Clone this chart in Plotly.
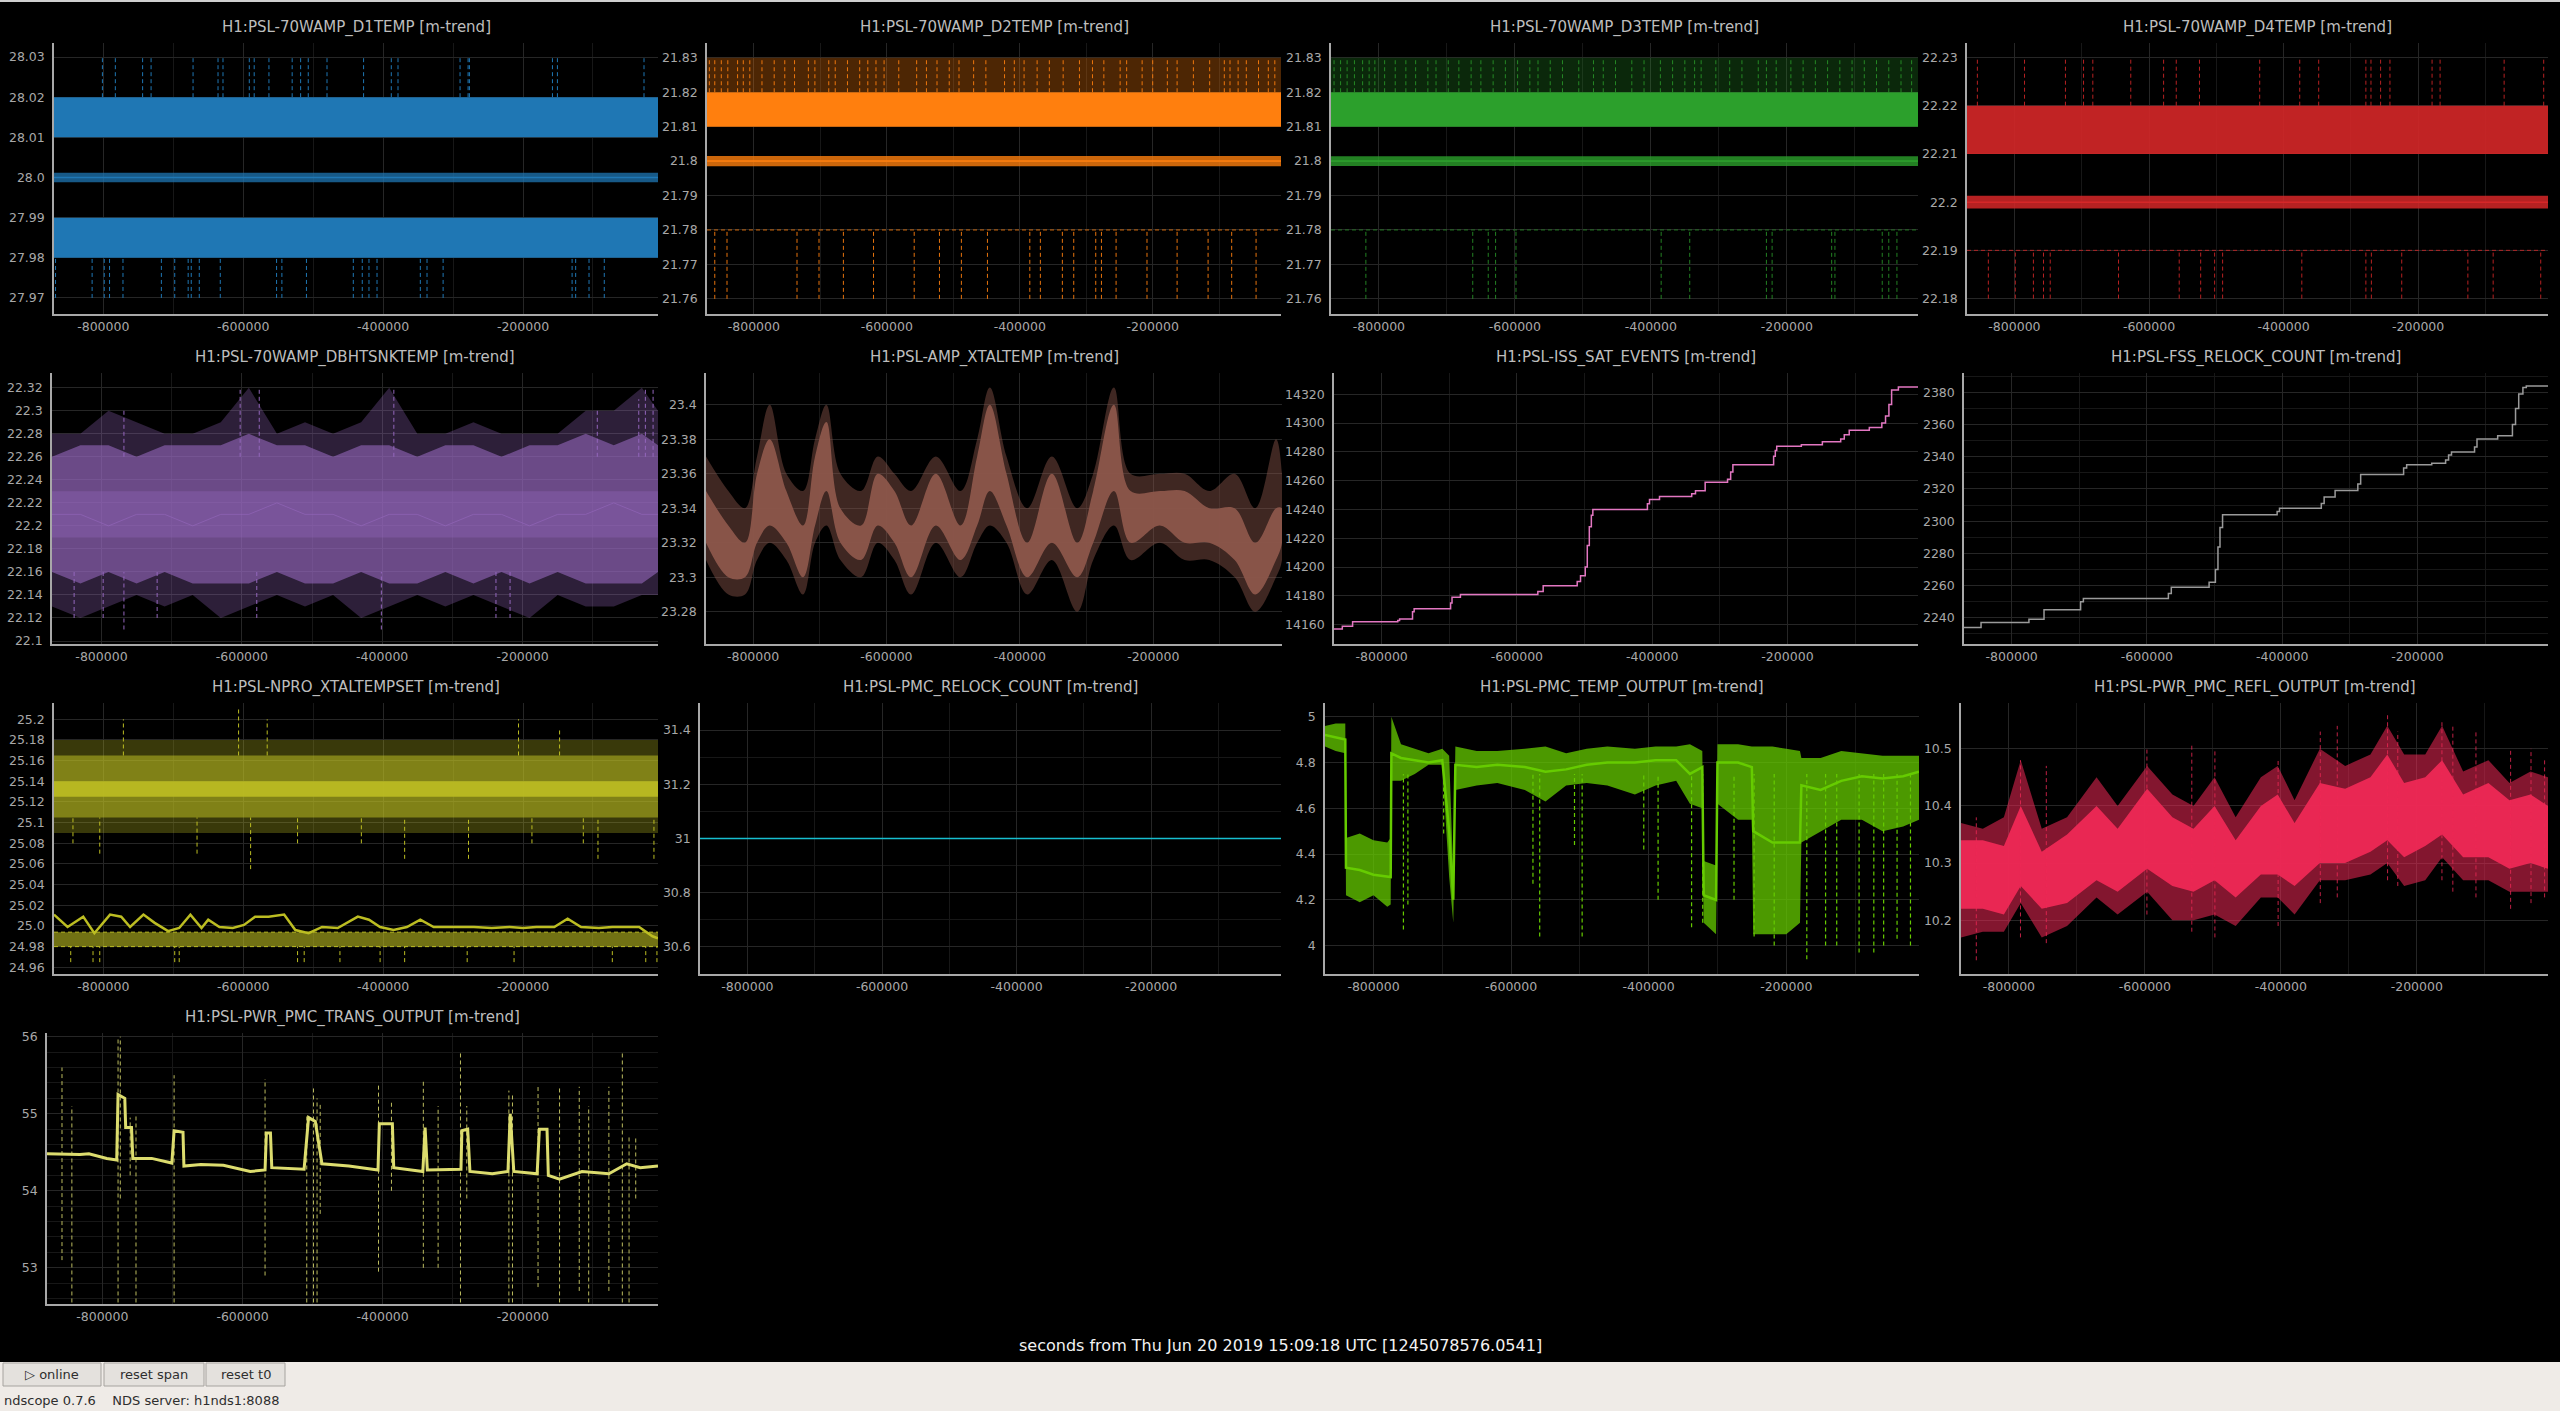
import plotly.graph_objects as go

W, H = 2560, 1411

# ---- shared time axis (seconds from t0) ----
T_START = -870500
T_END = -7000
T_START_LONG = -879000
EDGES = [T_START, T_END]
X_TICKS = [-800000, -600000, -400000, -200000]
X_MINOR = [-900000, -700000, -500000, -300000, -100000]

# ---- H1:PSL-70WAMP_D1TEMP ----
d1_ticks = ['28.03', '28.02', '28.01', '28.0', '27.99', '27.98', '27.97']
d1_max_band = [28.01, 28.02]
d1_mean_band = [27.9988, 28.0012]
d1_mean = 28.0
d1_min_band = [27.98, 27.99]
d1_spike_top = 28.03
d1_spike_bot = 27.97
d1_up_spikes = [-801300, -782800, -743800, -731700, -671700, -636000, -628900, -591300, -584300, -563200,
                -530000, -517900, -507000, -480200, -427900, -388300, -378700, -290000, -278500, -276600,
                -157900, -150800, -27000]
d1_dn_spikes = [-868300, -816000, -798700, -791100, -771900, -717000, -697900, -678700, -674300, -662800,
                -632800, -552300, -544700, -509600, -442600, -429800, -420200, -408700, -346800, -337200,
                -314200, -129800, -124700, -105600, -83800]

# ---- H1:PSL-70WAMP_D2TEMP ----
d2_ticks = ['21.83', '21.82', '21.81', '21.8', '21.79', '21.78', '21.77', '21.76']
d2_max_band = [21.81, 21.82]
d2_mean_band = [21.7985, 21.8015]
d2_mean = 21.80
d2_min_level = 21.78
d2_spike_top = 21.83
d2_spike_bot = 21.76
d2_up_spikes = [-867000, -858800, -849000, -839200, -824500, -815900, -806100, -787800, -769400, -753500,
                -738800, -718000, -708200, -687300, -677600, -659200, -640800, -628600, -616300, -604100,
                -582000, -555100, -540400, -524500, -506100, -491400, -469400, -451000, -422900, -408200,
                -393500, -373900, -355500, -334700, -310200, -290600, -273500, -249000, -239200, -215900,
                -200000, -178000, -163300, -138800, -114300, -92300, -83700, -71500, -59200, -40800,
                -26100, -16300]
d2_dn_spikes = [-858800, -840400, -735100, -702000, -665300, -620000, -558800, -520800, -487800, -448600,
                -384900, -369000, -335900, -318800, -285700, -277100, -255100, -208600, -163300, -116700,
                -81200, -44500]

# ---- H1:PSL-70WAMP_D3TEMP ----
d3_ticks = ['21.83', '21.82', '21.81', '21.8', '21.79', '21.78', '21.77', '21.76']
d3_max_band = [21.81, 21.82]
d3_mean_band = [21.7986, 21.8014]
d3_mean = 21.80
d3_min_level = 21.78
d3_spike_top = 21.83
d3_spike_bot = 21.76
d3_up_spikes = [-866000, -856400, -846800, -836000, -824000, -814400, -806000, -791600, -776000, -760400,
                -746000, -728000, -716000, -698000, -682400, -664400, -650000, -632000, -614000, -596000,
                -578000, -566000, -548000, -530000, -506000, -484400, -470000, -452000, -428000, -410000,
                -386000, -368000, -350000, -335600, -326000, -304400, -284000, -266000, -242000, -230000,
                -215600, -194000, -176000, -158000, -140000, -122000, -104000, -86000, -68000, -50000,
                -32000, -16400]
d3_dn_spikes = [-819200, -662000, -639200, -628400, -598400, -384800, -342800, -230000, -221600, -134000,
                -129200, -59600, -50000, -38000]

# ---- H1:PSL-70WAMP_D4TEMP ----
d4_ticks = ['22.23', '22.22', '22.21', '22.2', '22.19', '22.18']
d4_max_band = [22.21, 22.22]
d4_mean_band = [22.1987, 22.2013]
d4_mean = 22.20
d4_min_level = 22.19
d4_spike_top = 22.23
d4_spike_bot = 22.18
d4_up_spikes = [-855100, -785000, -724200, -697300, -683500, -627100, -578300, -559500, -525000, -435500,
                -376000, -347800, -277700, -270100, -255800, -241900, -179300, -167400, -72200, -13400]
d4_dn_spikes = [-838800, -798700, -771800, -756800, -746800, -645300, -555100, -523200, -502500, -490600,
                -372900, -277700, -269500, -224400, -126100, -88500, -17800]

# ---- H1:PSL-70WAMP_DBHTSNKTEMP ----
dbh_ticks = ['22.32', '22.3', '22.28', '22.26', '22.24', '22.22', '22.2', '22.18', '22.16', '22.14', '22.12', '22.1']
dbh_t = [-870500, -830000, -790000, -750000, -710000, -670000, -630000, -590000, -550000, -510000, -470000,
         -430000, -390000, -350000, -310000, -270000, -230000, -190000, -150000, -110000, -70000, -30000, -7000]
dbh_hi_out = [22.28, 22.28, 22.30, 22.29, 22.28, 22.28, 22.29, 22.32, 22.28, 22.29, 22.28, 22.29, 22.32, 22.28,
              22.28, 22.29, 22.28, 22.28, 22.28, 22.30, 22.30, 22.32, 22.30]
dbh_hi_in = [22.26, 22.27, 22.27, 22.26, 22.27, 22.27, 22.27, 22.28, 22.27, 22.27, 22.26, 22.27, 22.27, 22.26,
             22.27, 22.27, 22.26, 22.27, 22.27, 22.28, 22.27, 22.28, 22.27]
dbh_lo_in = [22.16, 22.15, 22.16, 22.15, 22.16, 22.15, 22.15, 22.15, 22.16, 22.15, 22.15, 22.16, 22.15, 22.15,
             22.16, 22.15, 22.16, 22.15, 22.16, 22.15, 22.15, 22.15, 22.16]
dbh_lo_out = [22.13, 22.12, 22.13, 22.14, 22.13, 22.14, 22.12, 22.13, 22.14, 22.13, 22.14, 22.12, 22.13, 22.14,
              22.13, 22.14, 22.13, 22.12, 22.14, 22.13, 22.13, 22.14, 22.14]
dbh_mean = [22.21, 22.21, 22.20, 22.21, 22.21, 22.20, 22.21, 22.21, 22.22, 22.21, 22.21, 22.20, 22.21, 22.21,
            22.20, 22.21, 22.21, 22.20, 22.21, 22.21, 22.22, 22.21, 22.21]
dbh_core = [22.19, 22.23]
dbh_peak_t = [-768000, -602400, -575200, -383400, -93500, -34400, -25000, -14000]
dbh_peak_v = [22.30, 22.32, 22.32, 22.32, 22.30, 22.31, 22.32, 22.32]
dbh_dip_t = [-839000, -797600, -768000, -720700, -578700, -401200, -237900, -217800]
dbh_dip_v = [22.12, 22.12, 22.11, 22.12, 22.12, 22.11, 22.12, 22.12]

# ---- H1:PSL-AMP_XTALTEMP ----
xtal_ticks = ['23.4', '23.38', '23.36', '23.34', '23.32', '23.3', '23.28']
xtal_t = [-870500, -837000, -812000, -794000, -775000, -750000, -725000, -707000, -690000, -669000,
          -638000, -613000, -588000, -563000, -526000, -489000, -464000, -445000, -420000, -389000,
          -352000, -314000, -290000, -259000, -234000, -190000, -153000, -116000, -78000, -47000,
          -16000, -7000]
xtal_core_lo = [23.32, 23.30, 23.30, 23.32, 23.33, 23.32, 23.30, 23.33, 23.35, 23.32,
                23.31, 23.33, 23.32, 23.30, 23.33, 23.31, 23.33, 23.35, 23.33, 23.30,
                23.32, 23.30, 23.32, 23.35, 23.32, 23.33, 23.32, 23.32, 23.31, 23.29,
                23.31, 23.32]
xtal_core_hi = [23.35, 23.33, 23.32, 23.36, 23.38, 23.35, 23.33, 23.37, 23.39, 23.34,
                23.33, 23.36, 23.35, 23.33, 23.36, 23.33, 23.37, 23.40, 23.36, 23.32,
                23.36, 23.32, 23.35, 23.40, 23.35, 23.35, 23.35, 23.34, 23.34, 23.32,
                23.34, 23.34]
xtal_out_lo = [23.31, 23.29, 23.29, 23.31, 23.32, 23.31, 23.29, 23.32, 23.33, 23.31,
               23.30, 23.32, 23.31, 23.29, 23.32, 23.30, 23.32, 23.33, 23.32, 23.29,
               23.31, 23.28, 23.31, 23.33, 23.31, 23.32, 23.31, 23.31, 23.30, 23.28,
               23.30, 23.31]
xtal_out_hi = [23.37, 23.35, 23.34, 23.37, 23.40, 23.36, 23.35, 23.38, 23.40, 23.36,
               23.35, 23.37, 23.36, 23.35, 23.37, 23.35, 23.38, 23.41, 23.37, 23.34,
               23.37, 23.34, 23.36, 23.41, 23.36, 23.36, 23.36, 23.35, 23.36, 23.34,
               23.38, 23.36]

# ---- H1:PSL-ISS_SAT_EVENTS ----
iss_ticks = ['14320', '14300', '14280', '14260', '14240', '14220', '14200', '14180', '14160']
iss_t = [-870500, -858200, -843000, -776200, -773500, -754400, -752000, -698100, -696000, -683600,
         -569100, -561200, -510900, -506000, -499000, -496000, -493000, -490000, -487800, -407100,
         -404000, -389200, -341600, -336000, -321700, -288600, -284000, -280700, -220500, -218000,
         -215900, -179500, -148400, -121300, -116000, -108700, -79000, -60500, -55000, -50000,
         -46000, -36000, -7000]
iss_v = [14157, 14159, 14162, 14163, 14164, 14169, 14171, 14175, 14179, 14181,
         14183, 14187, 14190, 14194, 14200, 14215, 14228, 14236, 14240, 14244,
         14247, 14249, 14251, 14253, 14259, 14261, 14266, 14271, 14277, 14281,
         14284, 14285, 14287, 14289, 14292, 14295, 14297, 14300, 14305, 14313,
         14323, 14325, 14325]

# ---- H1:PSL-FSS_RELOCK_COUNT ----
fss_ticks = ['2380', '2360', '2340', '2320', '2300', '2280', '2260', '2240']
fss_t = [-870500, -845300, -774500, -752200, -698100, -694000, -568300, -564000, -508100, -498800,
         -495000, -492000, -488200, -407500, -404000, -342200, -338000, -321800, -288200, -284000,
         -220500, -216000, -178900, -158400, -154000, -149700, -115600, -112000, -81400, -59600,
         -55000, -50300, -44100, -39100, -7000]
fss_v = [2234, 2237, 2239, 2245, 2250, 2252, 2255, 2259, 2262, 2270,
         2284, 2296, 2304, 2306, 2308, 2311, 2315, 2319, 2323, 2329,
         2333, 2335, 2336, 2338, 2341, 2343, 2346, 2351, 2353, 2360,
         2370, 2379, 2383, 2384, 2384]

# ---- H1:PSL-NPRO_XTALTEMPSET ----
npro_ticks = ['25.2', '25.18', '25.16', '25.14', '25.12', '25.1', '25.08', '25.06', '25.04', '25.02',
              '25.0', '24.98', '24.96']
npro_max_outer = [25.09, 25.18]
npro_max_mid = [25.105, 25.165]
npro_max_core = [25.125, 25.14]
npro_min_band = [24.98, 24.994]
npro_t = [-870500, -851100, -828700, -812800, -790400, -774400, -761700, -742600, -726600, -707400,
          -691500, -675500, -659600, -650000, -634000, -614900, -598900, -583000, -563800, -541500,
          -525500, -506400, -487200, -464900, -436100, -420200, -404300, -385100, -366000, -346800,
          -327700, -308500, -289400, -270200, -244700, -219100, -200000, -180900, -155300, -136200,
          -117000, -91500, -72300, -53200, -34000, -14900, -7000]
npro_mean = [25.011, 24.999, 25.009, 24.993, 25.011, 25.009, 24.999, 25.011, 25.003, 24.995,
             24.998, 25.011, 24.998, 25.006, 24.999, 24.998, 25.001, 25.009, 25.009, 25.011,
             24.996, 24.993, 24.999, 24.998, 25.009, 25.006, 24.999, 24.996, 24.999, 25.006,
             24.999, 24.999, 24.999, 24.999, 24.998, 24.999, 24.998, 24.999, 24.999, 25.007,
             24.999, 24.998, 24.999, 24.999, 24.999, 24.990, 24.988]
npro_dn_t = [-843400, -805100, -666000, -589400, -522300, -431100, -369200, -277900, -187200, -113800,
             -92800, -12800]
npro_dn_v = [25.08, 25.07, 25.07, 25.055, 25.08, 25.08, 25.065, 25.065, 25.08, 25.08, 25.065, 25.065]
npro_up_t = [-771300, -606600, -565700, -206400, -147700]
npro_up_v = [25.2, 25.21, 25.2, 25.2, 25.19]
npro_low_t = [-846600, -814700, -805100, -697900, -691500, -522300, -512800, -461700, -404300, -369200,
              -279800, -212800, -72300, -24500, -8500]
npro_low_v = 24.965

# ---- H1:PSL-PMC_RELOCK_COUNT ----
pmcr_ticks = ['31.4', '31.2', '31', '30.8', '30.6']
pmcr_v = [31.0, 31.0]

# ---- H1:PSL-PMC_TEMP_OUTPUT ----
pmct_ticks = ['5', '4.8', '4.6', '4.4', '4.2', '4']
pmct_t = [-870500, -855000, -841000, -840000, -820000, -800000, -780000, -775000, -774000, -760000,
          -740000, -720000, -700000, -690000, -684000, -681000, -650000, -620000, -580000, -550000,
          -520000, -490000, -460000, -420000, -390000, -360000, -340000, -322000, -320000, -302000,
          -300000, -270000, -250000, -248000, -220000, -200000, -180000, -178000, -150000, -120000,
          -90000, -60000, -30000, -7000]
pmct_lo = [4.87, 4.85, 4.84, 4.22, 4.19, 4.22, 4.17, 4.18, 4.72, 4.72,
           4.75, 4.79, 4.79, 4.30, 4.10, 4.68, 4.70, 4.71, 4.68, 4.63,
           4.70, 4.71, 4.70, 4.66, 4.70, 4.72, 4.62, 4.60, 4.10, 4.05,
           4.62, 4.55, 4.55, 4.05, 4.05, 4.05, 4.10, 4.45, 4.50, 4.55,
           4.55, 4.50, 4.52, 4.55]
pmct_mean = [4.92, 4.91, 4.90, 4.34, 4.33, 4.31, 4.30, 4.30, 4.84, 4.82,
             4.81, 4.80, 4.81, 4.50, 4.20, 4.79, 4.78, 4.79, 4.78, 4.76,
             4.77, 4.79, 4.80, 4.80, 4.81, 4.81, 4.75, 4.78, 4.22, 4.20,
             4.80, 4.80, 4.78, 4.50, 4.45, 4.45, 4.45, 4.70, 4.68, 4.72,
             4.74, 4.73, 4.74, 4.76]
pmct_hi = [4.96, 4.97, 4.97, 4.47, 4.49, 4.46, 4.45, 4.47, 5.00, 4.88,
           4.86, 4.84, 4.86, 4.83, 4.30, 4.87, 4.85, 4.85, 4.86, 4.87,
           4.84, 4.86, 4.87, 4.86, 4.87, 4.87, 4.88, 4.85, 4.37, 4.35,
           4.88, 4.88, 4.87, 4.87, 4.87, 4.86, 4.85, 4.82, 4.82, 4.85,
           4.84, 4.83, 4.83, 4.83]
pmct_drop_t = [-756500, -750000, -698000, -568200, -558400, -507800, -496700, -407100, -386300, -337600,
               -321400, -275900, -246700, -217500, -170100, -142800, -126600, -94100, -72700, -58400,
               -38900, -19400]
pmct_drop_lo = [4.07, 4.18, 4.49, 4.27, 4.04, 4.44, 4.04, 4.42, 4.20, 4.08,
                4.10, 4.20, 4.04, 4.00, 3.94, 4.00, 4.00, 3.97, 3.97, 4.00,
                4.03, 4.00]
pmct_drop_top = 4.75

# ---- H1:PSL-PWR_PMC_REFL_OUTPUT ----
refl_ticks = ['10.5', '10.4', '10.3', '10.2']
refl_t = [-870500, -838400, -807400, -782600, -751700, -714500, -671100, -640100, -596700, -559500,
          -528500, -497500, -466500, -429400, -404600, -379800, -342600, -305400, -268200, -243400,
          -218600, -187600, -162800, -131800, -94700, -63700, -32700, -7000]
refl_core_lo = [10.22, 10.22, 10.21, 10.26, 10.22, 10.23, 10.27, 10.25, 10.29, 10.26,
                10.25, 10.27, 10.24, 10.28, 10.28, 10.26, 10.30, 10.30, 10.32, 10.34,
                10.31, 10.33, 10.35, 10.31, 10.31, 10.29, 10.30, 10.29]
refl_core_hi = [10.34, 10.34, 10.33, 10.40, 10.32, 10.35, 10.40, 10.36, 10.43, 10.38,
                10.36, 10.40, 10.34, 10.40, 10.42, 10.37, 10.44, 10.43, 10.45, 10.49,
                10.44, 10.45, 10.48, 10.42, 10.44, 10.41, 10.42, 10.40]
refl_out_lo = [10.17, 10.18, 10.18, 10.23, 10.17, 10.19, 10.24, 10.21, 10.25, 10.20,
               10.20, 10.21, 10.19, 10.24, 10.24, 10.21, 10.27, 10.27, 10.28, 10.30,
               10.26, 10.27, 10.31, 10.27, 10.27, 10.25, 10.25, 10.25]
refl_out_hi = [10.37, 10.36, 10.38, 10.48, 10.36, 10.38, 10.45, 10.40, 10.47, 10.42,
               10.40, 10.45, 10.38, 10.45, 10.47, 10.41, 10.50, 10.47, 10.49, 10.54,
               10.49, 10.49, 10.54, 10.46, 10.48, 10.44, 10.46, 10.45]
refl_spike_t = [-848000, -783000, -745000, -597000, -531000, -497000, -404000, -342000, -317000, -243000,
                -228000, -163000, -147000, -113000, -62000, -32000, -12000]
refl_spike_hi = [10.38, 10.48, 10.47, 10.50, 10.51, 10.50, 10.48, 10.53, 10.54, 10.56,
                 10.53, 10.55, 10.54, 10.53, 10.50, 10.50, 10.48]
refl_spike_lo = [10.13, 10.17, 10.16, 10.21, 10.18, 10.17, 10.19, 10.23, 10.24, 10.27,
                 10.26, 10.27, 10.25, 10.24, 10.22, 10.23, 10.24]

# ---- H1:PSL-PWR_PMC_TRANS_OUTPUT ----
trans_ticks = ['56', '55', '54', '53']
trans_t = [-879000, -851200, -832000, -819200, -793600, -779500, -777600, -768000, -766700, -758400,
           -756500, -729600, -700800, -697600, -684900, -683600, -659300, -627300, -588900, -567800,
           -565900, -560100, -558200, -512100, -505700, -496100, -486600, -448200, -406600, -404700,
           -386100, -384200, -342600, -339400, -336200, -288200, -286900, -278600, -275400, -243500,
           -221100, -217900, -212800, -179500, -176300, -165400, -163500, -147500, -115500, -77100,
           -51600, -32400, -7000]
trans_mean = [54.48, 54.47, 54.47, 54.48, 54.42, 54.40, 55.25, 55.20, 54.82, 54.82,
              54.42, 54.42, 54.36, 54.78, 54.76, 54.32, 54.34, 54.33, 54.25, 54.27,
              54.75, 54.75, 54.30, 54.28, 54.95, 54.90, 54.35, 54.32, 54.27, 54.87,
              54.87, 54.30, 54.25, 54.82, 54.27, 54.28, 54.78, 54.80, 54.25, 54.22,
              54.25, 55.00, 54.25, 54.22, 54.80, 54.80, 54.20, 54.15, 54.25, 54.22,
              54.35, 54.30, 54.32]
trans_spike_t = [-857600, -843500, -777600, -774400, -760300, -752000, -697600, -567800, -508300, -498700,
                 -493600, -489100, -405900, -387400, -341900, -320800, -288900, -279900, -219800, -214700,
                 -178200, -147500, -119400, -105900, -77100, -57900, -48300, -38800]
trans_spike_lo = [53.1, 52.55, 52.55, 53.9, 54.2, 52.55, 52.55, 52.9, 52.55, 52.55,
                  52.55, 53.7, 52.95, 54.0, 53.0, 53.0, 52.55, 53.9, 52.55, 52.55,
                  52.75, 52.55, 52.7, 52.55, 52.7, 52.55, 52.55, 53.9]
trans_spike_hi = [55.6, 55.1, 56.0, 56.0, 54.95, 55.0, 55.5, 55.45, 55.0, 55.35,
                  55.2, 55.15, 55.4, 55.15, 55.45, 55.1, 55.8, 55.1, 55.3, 55.25,
                  55.35, 55.35, 55.35, 55.1, 55.35, 55.8, 54.7, 54.7]

# ---- panel layout (pixel boxes) ----
ROWS = [(43, 314), (373, 644), (703, 974), (1033, 1304)]
PANELS = [
    dict(title='H1:PSL-70WAMP_D1TEMP [m-trend]', row=0, x0=54, x1=658, yr=[27.966, 28.0335], ticks=d1_ticks),
    dict(title='H1:PSL-70WAMP_D2TEMP [m-trend]', row=0, x0=707, x1=1281, yr=[21.7556, 21.8343], ticks=d2_ticks),
    dict(title='H1:PSL-70WAMP_D3TEMP [m-trend]', row=0, x0=1331, x1=1918, yr=[21.7556, 21.8343], ticks=d3_ticks),
    dict(title='H1:PSL-70WAMP_D4TEMP [m-trend]', row=0, x0=1967, x1=2548, yr=[22.1768, 22.233], ticks=d4_ticks),
    dict(title='H1:PSL-70WAMP_DBHTSNKTEMP [m-trend]', row=1, x0=52, x1=658, yr=[22.0974, 22.3328], ticks=dbh_ticks),
    dict(title='H1:PSL-AMP_XTALTEMP [m-trend]', row=1, x0=706, x1=1282, yr=[23.2613, 23.4184], ticks=xtal_ticks),
    dict(title='H1:PSL-ISS_SAT_EVENTS [m-trend]', row=1, x0=1334, x1=1918, yr=[14146.6, 14334.8], ticks=iss_ticks),
    dict(title='H1:PSL-FSS_RELOCK_COUNT [m-trend]', row=1, x0=1964, x1=2548, yr=[2223.7, 2392], ticks=fss_ticks,
         yminor=[2230, 2250, 2270, 2290, 2310, 2330, 2350, 2370, 2390]),
    dict(title='H1:PSL-NPRO_XTALTEMPSET [m-trend]', row=2, x0=54, x1=658, yr=[24.9535, 25.2158], ticks=npro_ticks),
    dict(title='H1:PSL-PMC_RELOCK_COUNT [m-trend]', row=2, x0=700, x1=1281, yr=[30.5, 31.5], ticks=pmcr_ticks,
         yminor=[30.5, 30.7, 30.9, 31.1, 31.3, 31.5]),
    dict(title='H1:PSL-PMC_TEMP_OUTPUT [m-trend]', row=2, x0=1325, x1=1919, yr=[3.876, 5.06], ticks=pmct_ticks),
    dict(title='H1:PSL-PWR_PMC_REFL_OUTPUT [m-trend]', row=2, x0=1961, x1=2548, yr=[10.106, 10.58], ticks=refl_ticks),
    dict(title='H1:PSL-PWR_PMC_TRANS_OUTPUT [m-trend]', row=3, x0=47, x1=658, yr=[52.53, 56.048], ticks=trans_ticks,
         yminor=[52.6, 52.8, 53.2, 53.4, 53.6, 53.8, 54.2, 54.4, 54.6, 54.8, 55.2, 55.4, 55.6, 55.8],
         xr=[T_START_LONG, T_END]),
]

FONT = 'DejaVu Sans'
GRID = '#262626'
GRID_MINOR = '#171717'

fig = go.Figure()


def rgba(hexcol, a):
    h = hexcol.lstrip('#')
    return 'rgba(%d,%d,%d,%.3f)' % (int(h[0:2], 16), int(h[2:4], 16), int(h[4:6], 16), a)


def axes(n):
    s = '' if n == 1 else str(n)
    return dict(xaxis='x' + s, yaxis='y' + s, hoverinfo='skip', showlegend=False)


def band(n, t, lo, hi, color, alpha=1.0, shape='linear'):
    fig.add_trace(go.Scatter(x=list(t) + list(t)[::-1], y=list(hi) + list(lo)[::-1],
                             fill='toself', fillcolor=rgba(color, alpha), mode='lines',
                             line=dict(width=0, shape=shape), **axes(n)))


def flat_band(n, lims, color, alpha=1.0, t=EDGES):
    band(n, t, [lims[0]] * len(t), [lims[1]] * len(t), color, alpha)


def line(n, t, v, color, width=1.0, dash='solid', shape='linear', alpha=1.0):
    fig.add_trace(go.Scatter(x=t, y=v, mode='lines',
                             line=dict(color=rgba(color, alpha), width=width, dash=dash, shape=shape),
                             **axes(n)))


def spikes(n, times, lo, hi, color, width=1.0, dash='4px,3px', alpha=1.0):
    xs, ys = [], []
    for k, t in enumerate(times):
        a = lo[k] if isinstance(lo, list) else lo
        b = hi[k] if isinstance(hi, list) else hi
        xs += [t, t, None]
        ys += [a, b, None]
    line(n, xs, ys, color, width, dash, alpha=alpha)


# panel 1 - D1
c = '#1f77b4'
flat_band(1, d1_max_band, c)
flat_band(1, d1_min_band, c)
flat_band(1, d1_mean_band, c, 0.75)
line(1, EDGES, [d1_mean, d1_mean], c, 1.5)
spikes(1, d1_up_spikes, d1_max_band[1], d1_spike_top, c)
spikes(1, d1_dn_spikes, d1_spike_bot, d1_min_band[0], c)

# panel 2 - D2
c = '#ff7f0e'
flat_band(2, [d2_max_band[1], d2_spike_top], c, 0.3)
flat_band(2, d2_max_band, c)
flat_band(2, d2_mean_band, c, 0.8)
line(2, EDGES, [d2_mean, d2_mean], c, 1.5)
line(2, EDGES, [d2_min_level, d2_min_level], c, 1, '4px,3px', alpha=0.8)
spikes(2, d2_up_spikes, d2_max_band[1], d2_spike_top, c, alpha=0.9)
spikes(2, d2_dn_spikes, d2_spike_bot, d2_min_level, c, alpha=0.9)

# panel 3 - D3
c = '#2ca02c'
flat_band(3, [d3_max_band[1], d3_spike_top], c, 0.25)
flat_band(3, d3_max_band, c)
flat_band(3, d3_mean_band, c, 0.8)
line(3, EDGES, [d3_mean, d3_mean], c, 1.5)
line(3, EDGES, [d3_min_level, d3_min_level], c, 1, '4px,3px', alpha=0.7)
spikes(3, d3_up_spikes, d3_max_band[1], d3_spike_top, c, alpha=0.8)
spikes(3, d3_dn_spikes, d3_spike_bot, d3_min_level, c, alpha=0.8)

# panel 4 - D4
c = '#d62728'
flat_band(4, d4_max_band, c, 0.9)
flat_band(4, d4_mean_band, c, 0.85)
line(4, EDGES, [d4_mean, d4_mean], c, 1.5)
line(4, EDGES, [d4_min_level, d4_min_level], c, 1, '4px,3px', alpha=0.8)
spikes(4, d4_up_spikes, d4_max_band[1], d4_spike_top, c, alpha=0.85)
spikes(4, d4_dn_spikes, d4_spike_bot, d4_min_level, c, alpha=0.85)

# panel 5 - DBHTSNK
c = '#9467bd'
band(5, dbh_t, dbh_lo_out, dbh_hi_out, c, 0.3)
band(5, dbh_t, dbh_lo_in, dbh_hi_in, c, 0.6)
flat_band(5, dbh_core, c, 0.35)
line(5, dbh_t, dbh_mean, c, 1, alpha=0.6)
spikes(5, dbh_peak_t, dbh_hi_in[0], dbh_peak_v, c)
spikes(5, dbh_dip_t, dbh_dip_v, dbh_lo_in[0], c)

# panel 6 - AMP_XTALTEMP
c = '#8c564b'
band(6, xtal_t, xtal_out_lo, xtal_out_hi, c, 0.45, shape='spline')
band(6, xtal_t, xtal_core_lo, xtal_core_hi, c, 0.95, shape='spline')

# panel 7 - ISS_SAT_EVENTS
line(7, iss_t, iss_v, '#e377c2', 1.5, shape='hv')

# panel 8 - FSS_RELOCK_COUNT
line(8, fss_t, fss_v, '#9a9a9a', 1.5, shape='hv')

# panel 9 - NPRO_XTALTEMPSET
c = '#bcbd22'
flat_band(9, npro_max_outer, c, 0.3)
flat_band(9, npro_max_mid, c, 0.55)
flat_band(9, npro_max_core, c, 0.9)
flat_band(9, npro_min_band, c, 0.6)
line(9, EDGES, [npro_min_band[0], npro_min_band[0]], c, 1, '4px,3px')
line(9, EDGES, [npro_min_band[1], npro_min_band[1]], c, 1, '4px,3px')
spikes(9, npro_dn_t, npro_dn_v, npro_max_mid[0], c)
spikes(9, npro_up_t, npro_max_mid[1], npro_up_v, c)
spikes(9, npro_low_t, npro_low_v, npro_min_band[0], c)
line(9, npro_t, npro_mean, c, 2.5)

# panel 10 - PMC_RELOCK_COUNT
line(10, EDGES, pmcr_v, '#17becf', 1.5)

# panel 11 - PMC_TEMP_OUTPUT
c = '#66cc00'
band(11, pmct_t, pmct_lo, pmct_hi, c, 0.75)
spikes(11, pmct_drop_t, pmct_drop_lo, pmct_drop_top, c, width=1.2)
line(11, pmct_t, pmct_mean, c, 2.5)

# panel 12 - PWR_PMC_REFL_OUTPUT
c = '#ee2855'
band(12, refl_t, refl_out_lo, refl_out_hi, c, 0.55)
band(12, refl_t, refl_core_lo, refl_core_hi, c, 0.95)
spikes(12, refl_spike_t, refl_spike_lo, refl_spike_hi, c, alpha=0.8)

# panel 13 - PWR_PMC_TRANS_OUTPUT
c = '#dcdc6e'
spikes(13, trans_spike_t, trans_spike_lo, trans_spike_hi, c, alpha=0.85)
line(13, trans_t, trans_mean, c, 3)

# ---- axes ----
lay = {}
ann = []
for i, p in enumerate(PANELS, start=1):
    s = '' if i == 1 else str(i)
    top, bot = ROWS[p['row']]
    ydom = [1 - bot / H, 1 - top / H]
    xdom = [p['x0'] / W, p['x1'] / W]
    lay['xaxis' + s] = dict(
        domain=xdom, anchor='y' + s, range=p.get('xr', [T_START, T_END]),
        tickmode='array', tickvals=X_TICKS, ticktext=[str(v) for v in X_TICKS],
        showgrid=True, gridcolor=GRID, gridwidth=1, zeroline=False,
        showline=True, linecolor='#a8a8a8', linewidth=1.5, ticks='',
        minor=dict(tickvals=X_MINOR, showgrid=True, gridcolor=GRID_MINOR, ticks=''),
        tickfont=dict(family=FONT, size=12.5, color='#a8a8a8'),
        ticklabelstandoff=0, automargin=False, fixedrange=True)
    yd = dict(
        domain=ydom, anchor='x' + s, range=p['yr'],
        tickmode='array', tickvals=[float(t) for t in p['ticks']], ticktext=p['ticks'],
        showgrid=True, gridcolor=GRID, gridwidth=1, zeroline=False,
        showline=True, linecolor='#a8a8a8', linewidth=1.5, ticks='',
        tickfont=dict(family=FONT, size=12.5, color='#a8a8a8'),
        ticklabelstandoff=5, automargin=False, fixedrange=True)
    if 'yminor' in p:
        yd['minor'] = dict(tickvals=p['yminor'], showgrid=True, gridcolor=GRID_MINOR, ticks='')
    lay['yaxis' + s] = yd
    ann.append(dict(text=p['title'], x=(p['x0'] + p['x1']) / 2 / W, y=1 - (top - 16) / H,
                    xref='paper', yref='paper', showarrow=False, xanchor='center', yanchor='middle',
                    font=dict(family=FONT, size=15, color='#bdbdbd')))

ann.append(dict(text='seconds from Thu Jun 20 2019 15:09:18 UTC [1245078576.0541]',
                x=1280 / W, y=1 - 1345 / H, xref='paper', yref='paper', showarrow=False,
                xanchor='center', yanchor='middle', font=dict(family=FONT, size=16, color='#f2f2f2')))

# ---- bottom tool bar ----
shapes = [dict(type='rect', xref='paper', yref='paper', x0=0, x1=1, y0=0, y1=1 - 1362 / H,
               fillcolor='#efebe7', line=dict(width=0), layer='above'),
          dict(type='line', xref='paper', yref='paper', x0=0, x1=1, y0=1 - 1 / H, y1=1 - 1 / H,
               line=dict(color='#cfcfcf', width=2), layer='above')]
buttons = [('\u25b7 online', 3, 101), ('reset span', 104, 204), ('reset t0', 206, 285)]
for label, bx0, bx1 in buttons:
    shapes.append(dict(type='rect', xref='paper', yref='paper', x0=bx0 / W, x1=bx1 / W,
                       y0=1 - 1386 / H, y1=1 - 1363 / H, fillcolor='#e4e1dd',
                       line=dict(color='#a6a39f', width=1), layer='above'))
    ann.append(dict(text=label, x=(bx0 + bx1) / 2 / W, y=1 - 1374.5 / H, xref='paper', yref='paper',
                    showarrow=False, xanchor='center', yanchor='middle',
                    font=dict(family=FONT, size=13, color='#2e2e2e')))
ann.append(dict(text='ndscope 0.7.6\u00a0\u00a0\u00a0\u00a0NDS server: h1nds1:8088', x=2 / W, y=1 - 1400 / H,
                xref='paper', yref='paper', showarrow=False, xanchor='left', yanchor='middle',
                font=dict(family=FONT, size=13, color='#2e2e2e')))

fig.update_layout(
    template='none', width=W, height=H,
    margin=dict(l=0, r=0, t=0, b=0, pad=0),
    paper_bgcolor='#000000', plot_bgcolor='#000000',
    showlegend=False, annotations=ann, shapes=shapes,
    font=dict(family=FONT),
    **lay)

fig.write_html("out.html", config={'displayModeBar': False},
               post_script="document.body.style.margin='0';document.body.style.overflow='hidden';"
                           "document.body.style.background='#000';")
